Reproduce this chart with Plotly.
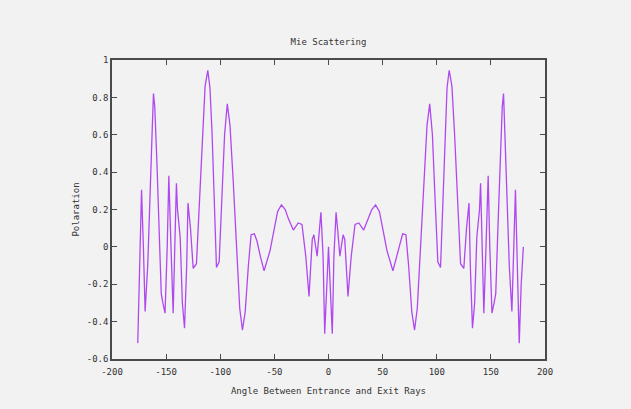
import plotly.graph_objects as go

angles = [-176.2, -174, -172.7, -171, -169.4, -167, -165, -163, -161.7, -160.5, -158.5, -156.5,
          -154.5, -153, -151, -149, -147.5, -145.5, -143.5, -142, -140.5, -139.5, -137, -135,
          -133, -131, -129.8, -127.5, -125, -122, -119, -116.5, -114, -111.5, -109.5, -107.5,
          -105.5, -103.5, -101, -98.5, -96, -93.5, -91, -88, -85, -82, -79.5, -77, -74, -71.5,
          -68.5, -66, -63, -59.5, -54, -50, -47, -43.5, -40, -37, -32.5, -28, -24.5, -21, -18,
          -15, -13.5, -10.5, -8.5, -7, -5, -3.5, -1.5,
          0,
          1.5, 3.5, 5, 7, 8.5, 10.5, 13.5, 15, 18, 21, 24.5, 28, 32.5, 37, 40, 43.5, 47, 50, 54,
          59.5, 63, 66, 68.5, 71.5, 74, 77, 79.5, 82, 85, 88, 91, 93.5, 96, 98.5, 101, 103.5,
          105.5, 107.5, 109.5, 111.5, 114, 116.5, 119, 122, 125, 127.5, 129.8, 131, 133, 135,
          137, 139.5, 140.5, 142, 143.5, 145.5, 147.5, 149, 151, 153, 154.5, 156.5, 158.5,
          160.5, 161.7, 163, 165, 167, 169.4, 171, 172.7, 174, 176.2, 178, 180]

polaration = [-0.515, 0.0, 0.305, 0.0, -0.346, -0.1, 0.2, 0.6, 0.82, 0.75, 0.45, 0.1,
              -0.25, -0.3, -0.355, 0.0, 0.38, 0.0, -0.355, 0.0, 0.34, 0.2, 0.05, -0.3,
              -0.435, -0.1, 0.235, 0.1, -0.115, -0.09, 0.25, 0.6, 0.86, 0.945, 0.85, 0.6,
              0.2, -0.11, -0.08, 0.25, 0.6, 0.765, 0.65, 0.35, 0.0, -0.33, -0.445, -0.35, -0.1, 0.065,
              0.07, 0.03, -0.05, -0.128, -0.02, 0.1, 0.19, 0.225, 0.2, 0.15, 0.09, 0.128, 0.12, -0.05, -0.265,
              0.04, 0.065, -0.05, 0.09, 0.185, -0.05, -0.465, -0.2,
              0.0,
              -0.2, -0.465, -0.05, 0.185, 0.09, -0.05, 0.065, 0.04, -0.265, -0.05, 0.12, 0.128, 0.09, 0.15, 0.2, 0.225, 0.19, 0.1, -0.02,
              -0.128, -0.05, 0.03, 0.07, 0.065, -0.1, -0.35, -0.445, -0.33, 0.0, 0.35, 0.65, 0.765, 0.6, 0.25, -0.08, -0.11,
              0.2, 0.6, 0.85, 0.945, 0.86, 0.6, 0.25, -0.09, -0.115, 0.1, 0.235, -0.1, -0.435, -0.3,
              0.05, 0.2, 0.34, 0.0, -0.355, 0.0, 0.38, 0.0, -0.355, -0.3, -0.25, 0.1, 0.45,
              0.75, 0.82, 0.6, 0.2, -0.1, -0.346, 0.0, 0.305, 0.0, -0.515, -0.2, 0.0]

x_ticks = [-200, -150, -100, -50, 0, 50, 100, 150, 200]
x_labels = ["-200", "-150", "-100", "-50", "0", "50", "100", "150", "200"]
y_ticks = [-0.6, -0.4, -0.2, 0, 0.2, 0.4, 0.6, 0.8, 1]
y_labels = ["-0.6", "-0.4", "-0.2", "0", "0.2", "0.4", "0.6", "0.8", "1"]

font_family = "DejaVu Sans Mono"
frame_color = "#4a4a4a"
text_color = "#333333"
bg = "#f2f2f2"

fig = go.Figure()
fig.add_trace(go.Scatter(x=angles, y=polaration, mode="lines",
                         line=dict(color="#b048f0", width=1.3), showlegend=False))

axis_common = dict(showgrid=False, zeroline=False, showline=True, linecolor=frame_color,
                   linewidth=1.5, mirror="ticks", ticks="inside", ticklen=5,
                   tickcolor=frame_color, tickwidth=1,
                   tickfont=dict(family=font_family, size=9, color=text_color))

fig.update_xaxes(range=[-200, 200], tickmode="array", tickvals=x_ticks, ticktext=x_labels,
                 ticklabelstandoff=3,
                 title=dict(text="Angle Between Entrance and Exit Rays",
                            font=dict(family=font_family, size=9, color=text_color), standoff=12),
                 **axis_common)
fig.update_yaxes(range=[-0.6, 1], tickmode="array", tickvals=y_ticks, ticktext=y_labels,
                 title=dict(text="Polaration",
                            font=dict(family=font_family, size=9, color=text_color), standoff=6),
                 **axis_common)

fig.update_layout(
    width=631, height=409,
    margin=dict(l=112, r=86, t=60, b=50),
    paper_bgcolor=bg, plot_bgcolor=bg,
    title=dict(text="Mie Scattering", x=(112 + 545) / 2 / 631, xanchor="center",
               y=1 - 42 / 409, yanchor="middle",
               font=dict(family=font_family, size=9, color=text_color)),
)

fig.write_html("out.html")
